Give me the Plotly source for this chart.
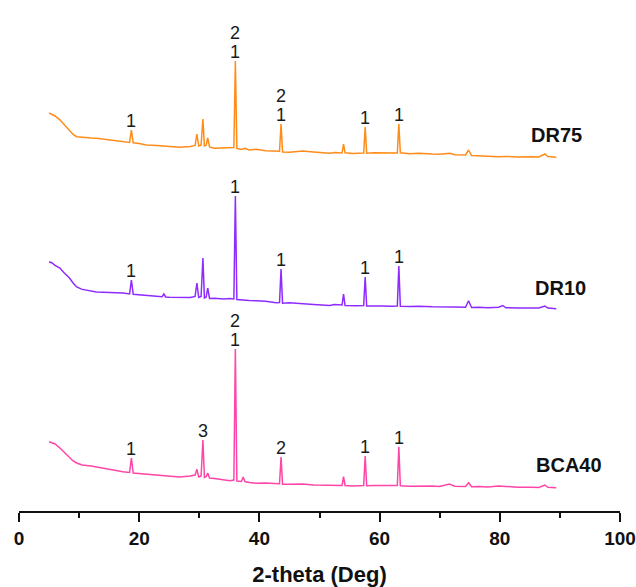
import plotly.graph_objects as go

# XRD patterns: (2-theta in degrees, intensity in a.u.), each trace drawn with its own vertical offset
dr75 = [(5.0,470),(5.5,458),(6.0,440),(6.8,402),(7.5,352),(8.4,290),(9.0,255),(9.6,233),(10.5,226),(12.0,219),
        (12.9,217),(14.0,209),(15.5,201),(17.3,184),(18.4,176),(18.7,300),(19.0,172),(20.0,166),(21.2,151),(23.0,146),
        (25.0,136),(26.7,128),(28.5,135),(29.3,146),(29.6,260),(29.9,141),(30.3,150),(30.6,410),(30.85,140),(31.15,149),
        (31.4,220),(31.7,131),(32.5,118),(34.0,121),(35.1,117),(35.75,124),(36.0,990),(36.25,115),(37.0,106),(37.6,116),
        (38.3,101),(39.5,108),(41.0,93),(42.8,84),(43.35,88),(43.6,360),(43.85,80),(45.0,78),(47.2,90),(49.0,81),
        (51.7,67),(52.5,75),(53.75,70),(54.0,160),(54.25,72),(55.5,65),(56.1,68),(57.35,70),(57.6,330),(57.85,68),
        (59.0,72),(60.5,73),(62.0,75),(62.95,70),(63.2,360),(63.45,72),(65.0,62),(66.5,68),(68.8,60),(70.0,58),
        (71.7,68),(72.5,52),(74.3,50),(74.8,100),(75.3,45),(76.5,41),(78.0,38),(79.8,33),(81.0,36),(83.0,30),
        (85.3,33),(86.5,30),(87.5,60),(88.0,35),(89.4,27)]

dr10 = [(5.0,483),(5.5,470),(6.0,447),(6.8,420),(7.5,372),(8.4,320),(9.0,270),(9.6,230),(10.5,206),(12.0,190),
        (12.9,181),(14.0,178),(15.5,175),(17.3,170),(18.4,161),(18.7,300),(19.0,158),(20.0,152),(21.2,141),(23.0,135),
        (23.8,132),(24.1,160),(24.4,130),(25.0,128),(26.7,130),(28.5,125),(29.3,136),(29.6,270),(29.9,125),(30.3,135),
        (30.6,520),(30.85,120),(31.15,130),(31.4,220),(31.7,115),(32.5,118),(34.0,110),(35.1,115),(35.75,110),(36.0,1140),
        (36.25,105),(37.0,100),(38.3,95),(39.5,93),(41.0,88),(42.8,73),(43.35,75),(43.6,410),(43.85,68),(45.0,72),
        (47.2,60),(49.0,55),(51.7,45),(52.5,55),(53.75,50),(54.0,160),(54.25,45),(55.5,40),(56.1,42),(57.35,45),
        (57.6,330),(57.85,40),(59.0,42),(60.5,40),(62.0,38),(62.95,40),(63.2,440),(63.45,38),(65.0,35),(66.5,38),
        (68.8,33),(70.0,30),(72.5,30),(74.3,28),(74.8,93),(75.3,25),(76.5,28),(78.0,22),(79.8,27),(80.5,45),
        (81.0,22),(83.0,20),(85.3,17),(86.5,20),(87.5,40),(88.0,20),(89.4,13)]

bca40 = [(5.0,483),(5.5,470),(6.0,460),(6.8,420),(7.5,380),(8.4,320),(9.0,290),(9.6,270),(10.5,250),(12.0,240),
         (12.9,230),(14.0,215),(15.5,200),(17.3,182),(18.4,175),(18.7,320),(19.0,170),(20.0,165),(21.2,160),(23.0,150),
         (25.0,140),(26.7,130),(28.5,140),(29.3,150),(29.6,207),(29.9,130),(30.3,140),(30.6,500),(30.85,125),(31.15,135),
         (31.4,170),(31.7,120),(32.5,115),(34.0,105),(35.1,93),(35.75,100),(36.0,1410),(36.25,90),(37.0,85),(37.3,130),
         (37.6,85),(38.3,75),(39.5,67),(41.0,70),(42.8,60),(43.35,62),(43.6,330),(43.85,57),(45.0,58),(47.2,60),
         (49.0,50),(51.7,43),(52.5,48),(53.75,45),(54.0,133),(54.25,45),(55.5,40),(56.1,43),(57.35,45),(57.6,340),
         (57.85,42),(59.0,45),(60.5,47),(62.0,42),(62.95,45),(63.2,433),(63.45,43),(65.0,38),(66.5,40),(68.8,40),
         (70.0,35),(71.6,60),(72.5,38),(74.3,35),(74.8,73),(75.3,32),(76.5,35),(78.0,30),(79.8,40),(80.5,38),
         (81.0,30),(83.0,28),(85.3,27),(86.5,25),(87.5,50),(88.0,27),(89.4,23)]

# phase index labels above peaks: (2-theta, labels stacked from the peak upward)
dr75_phases = [(18.7, ["1"]), (36.0, ["1", "2"]), (43.6, ["1", "2"]), (57.6, ["1"]), (63.2, ["1"])]
dr10_phases = [(18.7, ["1"]), (36.0, ["1"]), (43.6, ["1"]), (57.6, ["1"]), (63.2, ["1"])]
bca40_phases = [(18.7, ["1"]), (30.6, ["3"]), (36.0, ["1", "2"]), (43.6, ["2"]), (57.6, ["1"]), (63.2, ["1"])]

samples = [
    # name, data, phase labels, offset, colour, name label x, name label y
    ("DR75", dr75, dr75_phases, 3300, "#FF8C1A", 84.8, 3550),
    ("DR10", dr10, dr10_phases, 1800, "#8F2BFF", 85.6, 2020),
    ("BCA40", bca40, bca40_phases, 0, "#FF45A8", 85.7, 250),
]

FONT = "Liberation Sans, Arial, sans-serif"
fig = go.Figure()
annotations = []

for name, data, phases, offset, color, lx, ly in samples:
    tth = [p[0] for p in data]
    inten = [p[1] + offset for p in data]
    fig.add_trace(go.Scatter(x=tth, y=inten, mode="lines", name=name,
                             line=dict(color=color, width=1.5), showlegend=False))
    for pos, stack in phases:
        top = max(p[1] for p in data if abs(p[0] - pos) < 0.3) + offset
        for k, txt in enumerate(stack):
            annotations.append(dict(x=pos, y=top, text=txt, showarrow=False,
                                    xanchor="center", yanchor="bottom", yshift=-3 + 19 * k,
                                    font=dict(family=FONT, size=18, color="#1a1a1a")))
    annotations.append(dict(x=lx, y=ly, text="<b>%s</b>" % name, showarrow=False,
                            xanchor="left", yanchor="middle",
                            font=dict(family=FONT, size=20, color="#111111")))

fig.update_layout(
    width=636, height=587,
    margin=dict(l=19, r=16, t=10, b=76),
    paper_bgcolor="white", plot_bgcolor="white",
    annotations=annotations,
    xaxis=dict(range=[0, 100], tickvals=[0, 20, 40, 60, 80, 100], ticks="outside",
               ticklen=9, tickwidth=2, tickcolor="#111111",
               showline=True, linecolor="#111111", linewidth=2, showgrid=False, zeroline=False,
               minor=dict(tickvals=[10, 30, 50, 70, 90], ticks="outside", ticklen=5, tickwidth=2,
                          tickcolor="#111111", showgrid=False),
               tickfont=dict(family=FONT, size=19, color="#111111", weight="bold"),
               title=dict(text="<b>2-theta (Deg)</b>", standoff=22,
                          font=dict(family=FONT, size=22, color="#111111")),
               automargin=False),
    yaxis=dict(range=[-210, 4800], visible=False, automargin=False),
)

fig.write_html("out.html")
